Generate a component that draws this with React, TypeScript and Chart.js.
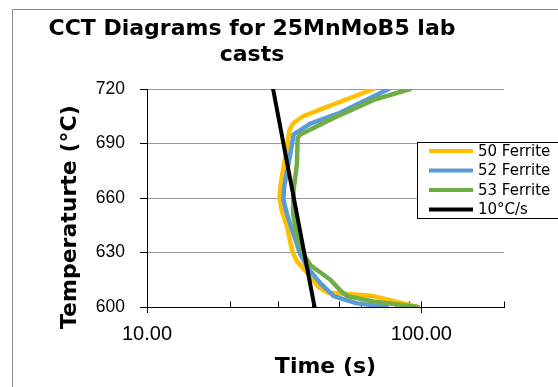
import { useEffect, useRef } from "react";
import { Chart, registerables } from "chart.js";

Chart.register(...registerables);

// ---------- data ----------
const TITLE_LINES = ["CCT Diagrams for 25MnMoB5 lab", "casts"];
const X_TITLE = "Time (s)";
const Y_TITLE = "Temperaturte (°C)";

const SERIES_LABELS = ["50 Ferrite", "52 Ferrite", "53 Ferrite", "10°C/s"];
const SERIES_COLORS = ["#FFC000", "#5B9BD5", "#70AD47", "#000000"];

const F50_TEMP = [720, 710, 705, 701, 697, 688, 679, 666, 660, 653, 644, 631, 625, 619, 611, 608, 606, 600];
const F50_TIME = [67, 45, 37, 34, 33, 32.4, 31.6, 30.6, 30.4, 31, 32.4, 33.8, 35.2, 38.3, 42.2, 45.3, 67, 97];

const F52_TEMP = [720, 707, 701, 695, 690, 679, 666, 659, 651, 640, 629, 622, 613, 606, 602, 600];
const F52_TIME = [76, 50.7, 39.4, 34.2, 33.8, 32.8, 31.6, 31.4, 32.4, 34.2, 36.2, 38.3, 42.9, 47.9, 58.3, 75];

const F53_TEMP = [720, 714, 704, 695, 693, 679, 664, 651, 639, 629, 623, 615, 609, 606, 603, 600];
const F53_TIME = [91, 67, 47.9, 36.2, 35.4, 35.2, 34.2, 34.1, 35.2, 37.2, 39.4, 46.6, 50.7, 53.7, 67, 97];

const RATE_TEMP = [720, 600];
const RATE_TIME = [28.8, 40.8];

const X_MIN = 10;
const X_MAX = 200;
const X_LABEL_TICKS = [10, 100];
const X_MINOR_TICKS = [20, 30, 40, 50, 60, 70, 80, 90, 200];

const Y_MIN = 600;
const Y_MAX = 720;
const Y_STEP = 30;

// ---------- helpers ----------
const toPoints = (times: number[], temps: number[]) =>
  times.map((t, i) => ({ x: t, y: temps[i] }));

const SERIES = [
  toPoints(F50_TIME, F50_TEMP),
  toPoints(F52_TIME, F52_TEMP),
  toPoints(F53_TIME, F53_TEMP),
  toPoints(RATE_TIME, RATE_TEMP),
];

const TITLE_FONT = { family: "'DejaVu Sans', Verdana, sans-serif", size: 22, weight: "bold" as const, lineHeight: 1.2 };

const xTickMarks = {
  id: "xTickMarks",
  beforeDatasetsDraw(chart: any) {
    const xs = chart.scales.x;
    const y0 = chart.chartArea.bottom;
    const ctx = chart.ctx;
    ctx.save();
    ctx.strokeStyle = "#000";
    ctx.lineWidth = 1;
    ctx.beginPath();
    for (const v of X_MINOR_TICKS) {
      const px = Math.round(xs.getPixelForValue(v)) + 0.5;
      ctx.moveTo(px, y0 - 5.5);
      ctx.lineTo(px, y0);
    }
    for (const v of X_LABEL_TICKS) {
      const px = Math.round(xs.getPixelForValue(v)) + 0.5;
      ctx.moveTo(px, y0 - 5.5);
      ctx.lineTo(px, y0 + 6);
    }
    ctx.stroke();
    ctx.restore();
  },
};

const boxLegend = {
  id: "boxLegend",
  afterDraw(chart: any) {
    const ctx = chart.ctx;
    const bx = 417.5, by = 142.5, bw = 141, bh = 76;
    ctx.save();
    ctx.fillStyle = "#fff";
    ctx.fillRect(bx, by, bw, bh);
    ctx.strokeStyle = "#000";
    ctx.lineWidth = 1;
    ctx.strokeRect(bx, by, bw, bh);
    ctx.font = "15px 'DejaVu Sans', Verdana, sans-serif";
    ctx.textBaseline = "middle";
    ctx.textAlign = "left";
    chart.data.datasets.forEach((ds: any, i: number) => {
      const cy = by + 8.5 + i * 19.5;
      ctx.strokeStyle = ds.borderColor;
      ctx.lineWidth = 4;
      ctx.beginPath();
      ctx.moveTo(429, cy);
      ctx.lineTo(473, cy);
      ctx.stroke();
      ctx.fillStyle = "#000";
      ctx.fillText(ds.label, 478, cy + 1);
    });
    ctx.restore();
  },
};

export default function App() {
  const ref = useRef<HTMLCanvasElement | null>(null);

  useEffect(() => {
    if (!ref.current) return;
    const chart = new Chart(ref.current, {
      type: "scatter",
      data: {
        datasets: SERIES.map((pts, i) => ({
          label: SERIES_LABELS[i],
          data: pts,
          showLine: true,
          borderColor: SERIES_COLORS[i],
          backgroundColor: SERIES_COLORS[i],
          borderWidth: i === 3 ? 4 : 4.5,
          borderJoinStyle: "round",
          borderCapStyle: "round",
          pointRadius: 0,
          pointHoverRadius: 0,
          tension: 0,
          fill: false,
          order: 4 - i,
        })),
      },
      options: {
        responsive: false,
        animation: false,
        devicePixelRatio: 1,
        layout: { padding: { left: 0, right: 54, top: 0, bottom: 0 } },
        plugins: {
          legend: { display: false },
          tooltip: { enabled: false },
          title: {
            display: true,
            text: TITLE_LINES,
            color: "#000",
            font: TITLE_FONT,
            padding: { top: 16, bottom: 20.2 },
          },
        },
        scales: {
          x: {
            type: "logarithmic",
            position: "bottom",
            min: X_MIN,
            max: X_MAX,
            afterBuildTicks: (s: any) => {
              s.ticks = X_LABEL_TICKS.map((v) => ({ value: v, major: true }));
            },
            afterFit: (s: any) => {
              s.height = 80;
            },
            ticks: {
              autoSkip: false,
              maxRotation: 0,
              color: "#000",
              padding: 15,
              font: { family: "'Liberation Sans', Arial, sans-serif", size: 20 },
              callback: (v: any) => Number(v).toFixed(2),
            },
            grid: { display: false, drawTicks: false },
            border: { display: true, color: "#000", width: 1 },
            title: {
              display: true,
              text: X_TITLE,
              color: "#000",
              font: TITLE_FONT,
              padding: { top: 0, bottom: 7 },
            },
          },
          y: {
            type: "linear",
            min: Y_MIN,
            max: Y_MAX,
            afterFit: (s: any) => {
              s.width = 147;
            },
            ticks: {
              stepSize: Y_STEP,
              color: "#000",
              padding: 15,
              font: { family: "'Liberation Sans', Arial, sans-serif", size: 17.5 },
            },
            grid: {
              color: (c: any) => (c.tick && c.tick.value === Y_MIN ? "rgba(0,0,0,0)" : "#9a9a9a"),
              tickColor: "#000",
              tickLength: 7,
              drawTicks: true,
              lineWidth: 1,
            },
            border: { display: true, color: "#000", width: 1 },
            title: {
              display: true,
              text: Y_TITLE + "     ",
              color: "#000",
              font: TITLE_FONT,
              padding: { top: 57, bottom: 0 },
            },
          },
        },
      },
      plugins: [xTickMarks, boxLegend],
    } as any);
    return () => chart.destroy();
  }, []);

  return (
    <div style={{ position: "fixed", left: 0, top: 0, width: 558, height: 387, background: "#fff", overflow: "hidden" }}>
      <div
        style={{
          position: "absolute",
          left: 12,
          top: 9,
          width: 700,
          height: 500,
          border: "1px solid #8c8c8c",
          boxSizing: "border-box",
        }}
      />
      <canvas ref={ref} width={558} height={387} style={{ position: "absolute", left: 0, top: 0, width: 558, height: 387 }} />
    </div>
  );
}
